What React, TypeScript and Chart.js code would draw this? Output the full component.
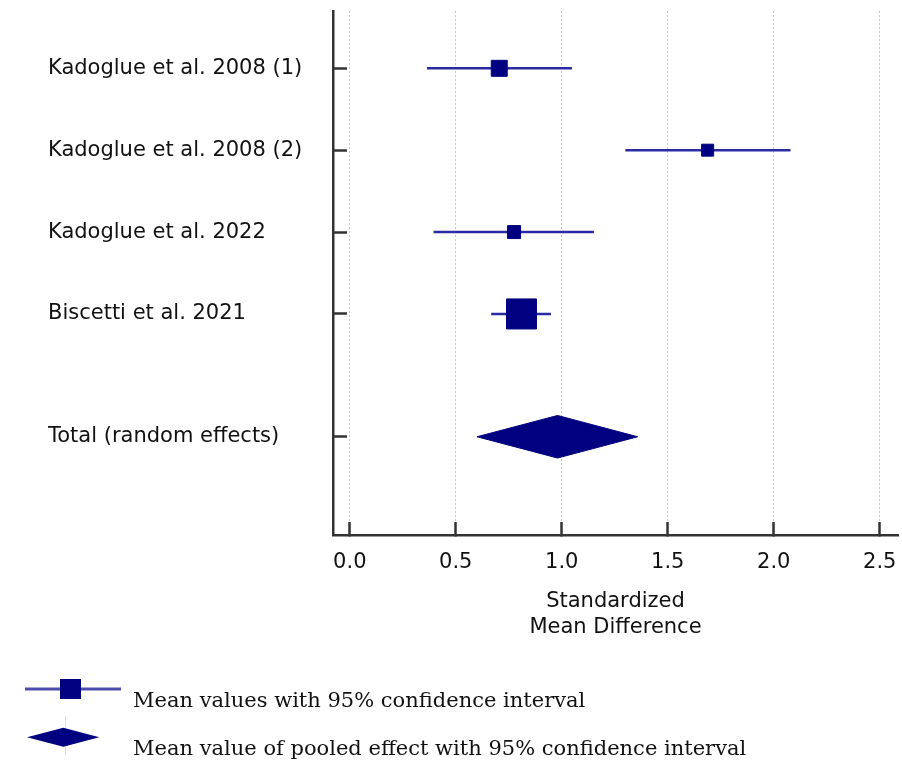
import React, { useEffect, useRef } from 'react';
import { Chart, registerables } from 'chart.js';

Chart.register(...registerables);

// ---- data ----
const studies = [
  'Kadoglue et al. 2008 (1)',
  'Kadoglue et al. 2008 (2)',
  'Kadoglue et al. 2022',
  'Biscetti et al. 2021',
];
const studyPositions = [0, 1, 2, 3];
const estimates = [0.705, 1.688, 0.775, 0.81];
const lowerCI = [0.364, 1.3, 0.395, 0.667];
const upperCI = [1.048, 2.079, 1.152, 0.949];
const weights = [17.4, 9.8, 11.5, 61.3];

const pooledLabel = 'Total (random effects)';
const pooledPosition = 4.5;
const pooledEstimate = 0.98;
const pooledLower = 0.6;
const pooledUpper = 1.358;

const xTickValues = [0, 0.5, 1, 1.5, 2, 2.5];
const xTitle = ['Standardized', 'Mean Difference'];
const legendTexts = [
  'Mean values with 95% confidence interval',
  'Mean value of pooled effect with 95% confidence interval',
];

// ---- styles ----
const NAVY = '#000080';
const CI_COLOR = '#2a2aa2';
const AXIS_COLOR = '#333333';
const SANS = '"DejaVu Sans", sans-serif';
const SERIF = '"DejaVu Serif", serif';
const diamondHalf = 0.26;
const maxSquareSide = 30;

export default function App() {
  const canvasRef = useRef<HTMLCanvasElement | null>(null);

  useEffect(() => {
    const canvas = canvasRef.current;
    if (!canvas) return;

    const maxW = Math.max(...weights);
    const radii = weights.map((w) => (Math.sqrt(w / maxW) * maxSquareSide) / Math.SQRT2);

    const ciDatasets = studies.map((s, i) => ({
      label: s,
      data: [
        { x: lowerCI[i], y: studyPositions[i] },
        { x: upperCI[i], y: studyPositions[i] },
      ],
      showLine: true,
      borderColor: CI_COLOR,
      borderWidth: 2.5,
      pointRadius: 0,
      order: 2,
    }));

    const chart = new Chart(canvas, {
      type: 'scatter',
      data: {
        datasets: [
          {
            label: 'estimates',
            data: estimates.map((e, i) => ({ x: e, y: studyPositions[i] })),
            pointStyle: 'rect',
            pointRadius: radii,
            backgroundColor: NAVY,
            borderColor: NAVY,
            borderWidth: 1,
            order: 0,
          } as any,
          ...ciDatasets,
          {
            label: 'pooled',
            data: [
              { x: pooledLower, y: pooledPosition },
              { x: pooledEstimate, y: pooledPosition - diamondHalf },
              { x: pooledUpper, y: pooledPosition },
              { x: pooledEstimate, y: pooledPosition + diamondHalf },
              { x: pooledLower, y: pooledPosition },
            ],
            showLine: true,
            fill: 'shape',
            backgroundColor: NAVY,
            borderColor: NAVY,
            borderWidth: 1,
            pointRadius: 0,
            order: 1,
          } as any,
        ],
      },
      options: {
        responsive: false,
        animation: false,
        devicePixelRatio: 1,
        layout: { autoPadding: false, padding: { left: 48, top: 11, right: 4, bottom: 122 } },
        plugins: {
          legend: { display: false },
          tooltip: { enabled: false },
        },
        scales: {
          x: {
            type: 'linear',
            min: -0.0792,
            max: 2.586,
            afterBuildTicks: (scale: any) => {
              scale.ticks = xTickValues.map((v) => ({ value: v }));
            },
            afterFit: (scale: any) => {
              scale.height = 105;
              scale.paddingLeft = 0;
              scale.paddingRight = 0;
            },
            ticks: {
              autoSkip: false,
              maxRotation: 0,
              padding: 28,
              color: '#111',
              font: { family: SANS, size: 21 },
              callback: (v: any) => Number(v).toFixed(1),
            },
            grid: {
              color: '#c8c8c8',
              lineWidth: 1,
              borderDash: [2, 2],
              drawTicks: true,
              tickLength: -13,
              tickColor: AXIS_COLOR,
              tickWidth: 2.5,
              tickBorderDash: [],
            } as any,
            border: { display: true, color: AXIS_COLOR, width: 2.5, dash: [2, 2] },
            title: {
              display: true,
              text: xTitle,
              color: '#111',
              font: { family: SANS, size: 21, lineHeight: 1.22 },
              padding: { top: 0, bottom: 0 },
            },
          },
          y: {
            type: 'linear',
            reverse: true,
            min: -0.7,
            max: 5.7,
            afterBuildTicks: (scale: any) => {
              scale.ticks = [...studyPositions, pooledPosition].map((v) => ({ value: v }));
            },
            afterFit: (scale: any) => {
              scale.width = 285;
              scale.paddingTop = 0;
              scale.paddingBottom = 0;
            },
            ticks: {
              autoSkip: false,
              crossAlign: 'far',
              padding: 0,
              color: '#111',
              font: { family: SANS, size: 21 },
              callback: (v: any) => {
                const idx = studyPositions.indexOf(Number(v));
                if (idx >= 0) return studies[idx];
                if (Number(v) === pooledPosition) return pooledLabel;
                return '';
              },
            },
            grid: {
              drawOnChartArea: false,
              drawTicks: true,
              tickLength: -14,
              tickColor: AXIS_COLOR,
              tickWidth: 2.5,
              color: AXIS_COLOR,
            },
            border: { display: true, color: AXIS_COLOR, width: 2.5 },
          },
        },
      } as any,
    });

    return () => chart.destroy();
  }, []);

  const textStyle: React.CSSProperties = {
    position: 'absolute',
    left: 133,
    fontFamily: SERIF,
    fontSize: 21,
    lineHeight: '21px',
    color: '#111',
    whiteSpace: 'nowrap',
  };

  return (
    <div style={{ position: 'absolute', left: 0, top: 0, width: 902, height: 762, background: '#fff' }}>
      <canvas ref={canvasRef} width={902} height={762} style={{ position: 'absolute', left: 0, top: 0, width: 902, height: 762 }} />
      <svg style={{ position: 'absolute', left: 0, top: 670 }} width={130} height={40}>
        <line x1={25} y1={19} x2={121} y2={19} stroke="#4c4cae" strokeWidth={3} />
        <rect x={60} y={9} width={21} height={20} fill={NAVY} />
      </svg>
      <div style={{ ...textStyle, top: 690 }}>{legendTexts[0]}</div>
      <svg style={{ position: 'absolute', left: 0, top: 710 }} width={130} height={50}>
        <line x1={65.5} y1={6} x2={65.5} y2={45} stroke="#dddddd" strokeWidth={1} />
        <polygon points="27,27.3 63.3,17.7 99.3,27.3 63.3,36.7" fill={NAVY} />
      </svg>
      <div style={{ ...textStyle, top: 738 }}>{legendTexts[1]}</div>
    </div>
  );
}
